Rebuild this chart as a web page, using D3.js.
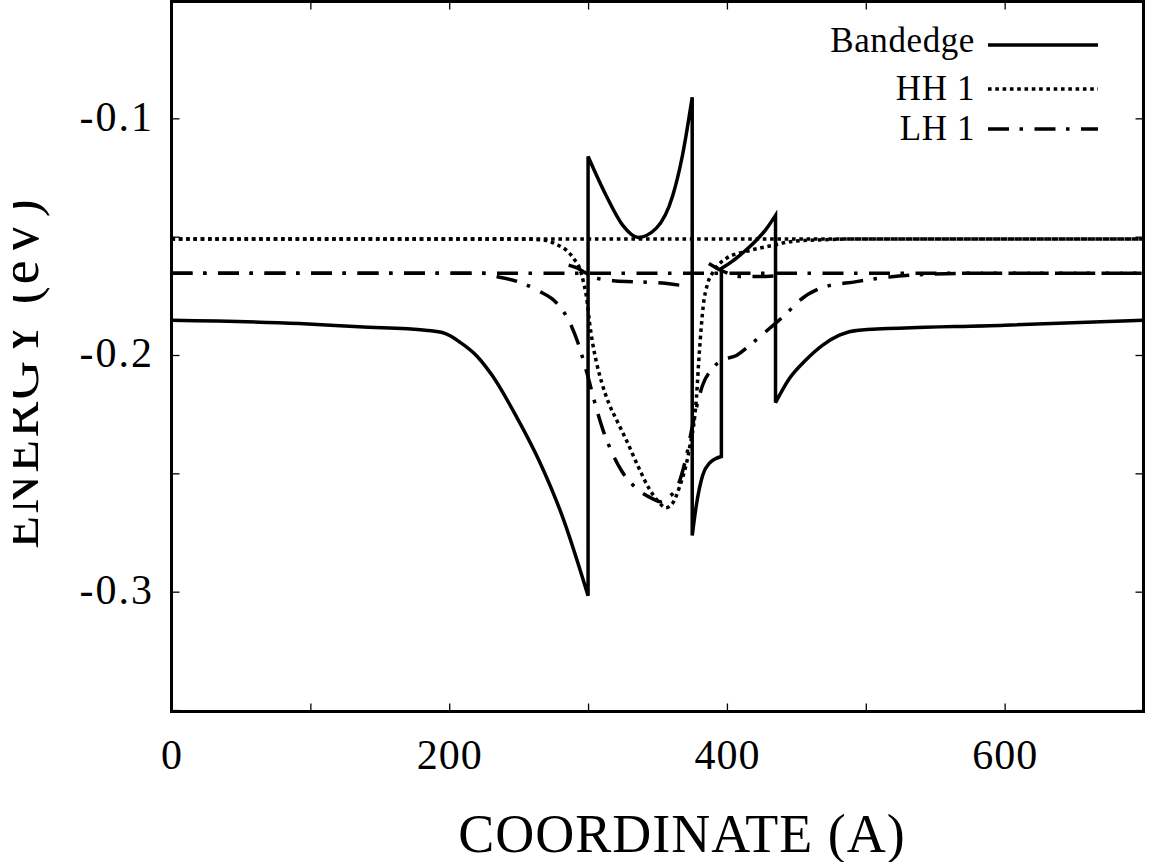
<html>
<head>
    <meta charset="utf-8">
    <script type="text/javascript" src="https://cdnjs.cloudflare.com/ajax/libs/d3/7.8.5/d3.min.js"></script>
    <style>
        body { margin: 0; background: #fff; }
        text { font-family: "Liberation Serif", "Times New Roman", serif; fill: #000; }
    </style>
</head>
<body>
    <div id="viz"></div>
    <script type="text/javascript">

    // tick values
    var xTicks = [0, 100, 200, 300, 400, 500, 600, 700];
    var xLabels = [0, 200, 400, 600];
    var yTicks = [-0.35, -0.3, -0.25, -0.2, -0.15, -0.1, -0.05];
    var yLabels = [-0.3, -0.2, -0.1];

    // band edge, split where it jumps
    var bandLeft = [[0,-0.1853],[92,-0.1867],[135,-0.1881],[183,-0.1895],[195,-0.1905],[201,-0.1920],
        [207,-0.1943],[220,-0.2005],[231,-0.2087],[248,-0.2256],[265,-0.2450],[282,-0.2690],[300,-0.3017]];
    var bandWell1 = [[300,-0.1161],[313,-0.1326],[325,-0.1452],[336,-0.1503],[349,-0.1465],
        [361,-0.1326],[368,-0.1156],[375,-0.0911]];
    var bandWell2 = [[375,-0.2763],[378,-0.2634],[382.6,-0.2507],[387.4,-0.2457],[396,-0.2429]];
    var bandWell3 = [[396,-0.1634],[404,-0.1603],[410,-0.1575],[416,-0.1545],[422,-0.1510],
        [428,-0.1470],[435,-0.1410]];
    var bandRight = [[435,-0.2201],[445,-0.2099],[457,-0.2020],[469,-0.1958],[481,-0.1916],
        [495,-0.1895],[600,-0.1874],[700,-0.1853]];

    // HH 1 level and wave
    var hh1Level = [[0,-0.151],[700,-0.151]];
    var hh1Wave = [[0,-0.151],[255,-0.151],[265,-0.1513],[270,-0.1516],[278,-0.1535],[284.5,-0.1558],
        [290,-0.1595],[294,-0.1634],[297,-0.1700],[299,-0.1760],[301,-0.1860],[303,-0.1940],[306,-0.2030],
        [310,-0.2120],[315,-0.2205],[321,-0.2280],[328,-0.2365],[336,-0.2470],[344,-0.2565],[350,-0.2615],
        [356,-0.2645],[361,-0.2625],[366,-0.2555],[373,-0.2395],[378,-0.2184],[380,-0.2000],[383,-0.1790],
        [386,-0.1700],[390,-0.1650],[395,-0.1612],[400,-0.1590],[414,-0.1562],[433,-0.1537],[447,-0.1520],
        [469,-0.1513],[490,-0.151],[700,-0.151]];

    // LH 1 level, wave and the small wiggle near the level
    var lh1Level = [[0,-0.1655],[700,-0.1655]];
    var lh1Wave = [[0,-0.1655],[225,-0.1655],[234,-0.1668],[249,-0.1689],[265,-0.1731],[277,-0.1778],
        [286.6,-0.1860],[292.4,-0.1943],[298.9,-0.2070],[306,-0.2226],[310.4,-0.2311],[316.9,-0.2408],
        [324,-0.2488],[334.9,-0.2564],[346.4,-0.2607],[352,-0.2620],[358,-0.2600],[363.7,-0.2564],
        [370.9,-0.2425],[375.2,-0.2298],[382.4,-0.2129],[389.6,-0.2057],[396,-0.2023],[406.9,-0.2002],
        [416.2,-0.1960],[430.6,-0.1888],[442.8,-0.1825],[452.2,-0.1770],[466.7,-0.1719],[493.3,-0.1690],
        [517,-0.1670],[541,-0.1660],[570,-0.1655],[700,-0.1655]];
    var lh1Wiggle = [[286,-0.1620],[292,-0.1632],[298,-0.1652],[306,-0.1675],[318,-0.1686],[332,-0.1690],
        [348,-0.1694],[366,-0.1705],null,[387,-0.1613],[396,-0.1643],[410,-0.1668],[428,-0.1668],[440,-0.1662]];

    var x = d3.scaleLinear().domain([0, 700]).range([171.5, 1143.5]);
    var y = d3.scaleLinear().domain([-0.05, -0.35]).range([0, 710]);

    var svg = d3.select("#viz")
        .append("svg")
        .attr("width", 1149)
        .attr("height", 862);

    svg.append("clipPath").attr("id", "plotclip")
        .append("rect").attr("x", 171.5).attr("y", 1.5).attr("width", 972).attr("height", 710);
    svg.append("clipPath").attr("id", "titleclip")
        .append("rect").attr("x", 13).attr("y", 0).attr("width", 100).attr("height", 862);

    var line = d3.line()
        .defined(d => d != null)
        .x(d => x(d[0]))
        .y(d => y(d[1]))
        .curve(d3.curveMonotoneX);

    // join the band edge pieces into one path, vertical jumps in between
    var bandPieces = [bandLeft, bandWell1, bandWell2, bandWell3, bandRight];
    var bandPath = bandPieces.map((p, i) => i == 0 ? line(p) : "L" + line(p).slice(1)).join("");

    var plot = svg.append("g").attr("clip-path", "url(#plotclip)");

    var dotted = "3.6 3.7";
    var dashdot = "21 10.5 3.5 11.5";
    var lw = 3.5;

    plot.append("path").attr("d", line(hh1Level))
        .style("fill", "none").style("stroke", "#000").style("stroke-width", lw).style("stroke-dasharray", dotted);
    plot.append("path").attr("d", line(hh1Wave))
        .style("fill", "none").style("stroke", "#000").style("stroke-width", lw).style("stroke-dasharray", dotted);
    plot.append("path").attr("d", line(lh1Level))
        .style("fill", "none").style("stroke", "#000").style("stroke-width", lw).style("stroke-dasharray", dashdot);
    plot.append("path").attr("d", line(lh1Wave))
        .style("fill", "none").style("stroke", "#000").style("stroke-width", lw).style("stroke-dasharray", dashdot);
    plot.append("path").attr("d", line(lh1Wiggle))
        .style("fill", "none").style("stroke", "#000").style("stroke-width", lw).style("stroke-dasharray", dashdot);
    plot.append("path").attr("d", bandPath)
        .style("fill", "none").style("stroke", "#000").style("stroke-width", lw);

    // axes, ticks pointing inward on all four sides
    var xAxis = svg.append("g").attr("transform", "translate(0,711.5)")
        .call(d3.axisBottom(x).tickValues(xTicks).tickSize(-8)
            .tickFormat(d => xLabels.indexOf(d) >= 0 ? d : ""));
    xAxis.selectAll("text").attr("y", 57.5).attr("dy", null)
        .style("font-size", "42px").style("letter-spacing", "1px").style("font-family", "Liberation Serif");

    svg.append("g").attr("transform", "translate(0,1.5)")
        .call(d3.axisTop(x).tickValues(xTicks).tickSize(-8).tickFormat(""));

    var yAxis = svg.append("g").attr("transform", "translate(171.5,0)")
        .call(d3.axisLeft(y).tickValues(yTicks).tickSize(-8)
            .tickFormat(d => yLabels.some(v => Math.abs(v - d) < 1e-9) ? d3.format(".1f")(d).replace("\u2212", "-") : ""));
    yAxis.selectAll("text").attr("x", -17.5).attr("dy", "0.28em")
        .style("font-size", "42px").style("letter-spacing", "2px").style("font-family", "Liberation Serif");

    svg.append("g").attr("transform", "translate(1143.5,0)")
        .call(d3.axisRight(y).tickValues(yTicks).tickSize(-8).tickFormat(""));

    svg.selectAll(".domain").remove();
    svg.selectAll(".tick line").style("stroke", "#000").style("stroke-width", 1.3);

    // frame
    svg.append("rect")
        .attr("x", 171.5).attr("y", 1.5).attr("width", 972).attr("height", 710)
        .style("fill", "none").style("stroke", "#000").style("stroke-width", 3);

    // axis titles
    svg.append("text")
        .attr("x", 682).attr("y", 852)
        .attr("text-anchor", "middle")
        .style("font-size", "54px").style("letter-spacing", "1px")
        .text("COORDINATE (A)");

    svg.append("g").attr("clip-path", "url(#titleclip)")
        .append("text")
        .attr("transform", "translate(38,373) rotate(-90)")
        .attr("text-anchor", "middle")
        .style("font-size", "54px").style("letter-spacing", "2px")
        .text("ENERGY (eV)");

    // legend
    var legendItems = [
        {name: "Bandedge", dash: null, ty: 52, ly: 45},
        {name: "HH 1", dash: dotted, ty: 100, ly: 89},
        {name: "LH 1", dash: dashdot, ty: 140, ly: 129}
    ];
    var legend = svg.append("g");
    legendItems.forEach(function(it) {
        legend.append("text").attr("x", 975).attr("y", it.ty)
            .attr("text-anchor", "end")
            .style("font-size", "35px").style("letter-spacing", "0.6px")
            .text(it.name);
        legend.append("line")
            .attr("x1", 988).attr("x2", 1098).attr("y1", it.ly).attr("y2", it.ly)
            .style("stroke", "#000").style("stroke-width", lw)
            .style("stroke-dasharray", it.dash);
    });

    </script>
</body>
</html>
